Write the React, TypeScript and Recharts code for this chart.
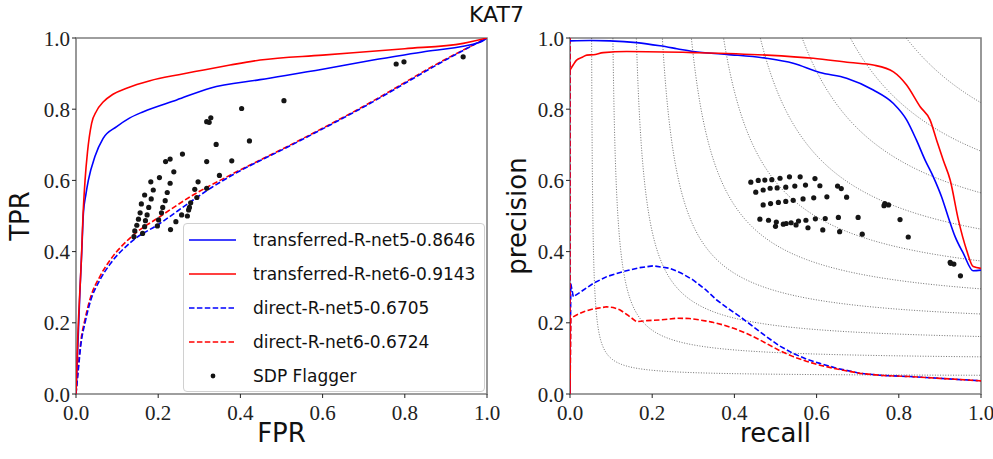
import React from "react";
import {
  ComposedChart,
  Line,
  Scatter,
  XAxis,
  YAxis,
  ReferenceArea,
} from "recharts";

type Pt = { x: number; y: number };
const P = (arr: number[][]): Pt[] => arr.map(([x, y]) => ({ x, y }));

// ---------- ROC panel ----------
const rocTransferredNet5 = P([
  [0, 0], [0.005, 0.15], [0.01, 0.3], [0.014, 0.4], [0.018, 0.508], [0.024, 0.56],
  [0.03, 0.6], [0.046, 0.667], [0.066, 0.718], [0.099, 0.751], [0.13, 0.775],
  [0.164, 0.793], [0.245, 0.826], [0.326, 0.859], [0.448, 0.883], [0.6, 0.912],
  [0.723, 0.938], [0.85, 0.962], [0.983, 0.988], [1, 1],
]);
const rocTransferredNet6 = P([
  [0, 0], [0.004, 0.15], [0.009, 0.28], [0.013, 0.376], [0.017, 0.5], [0.022, 0.6],
  [0.028, 0.68], [0.038, 0.76], [0.05, 0.795], [0.066, 0.82], [0.09, 0.842],
  [0.123, 0.859], [0.18, 0.88], [0.25, 0.897], [0.3, 0.908], [0.375, 0.924],
  [0.448, 0.938], [0.6, 0.952], [0.8, 0.97], [0.942, 0.985], [1, 1],
]);
const rocDirectNet5 = P([
  [0, 0], [0.005, 0.06], [0.012, 0.14], [0.022, 0.2], [0.035, 0.26], [0.058, 0.32],
  [0.083, 0.365], [0.135, 0.428], [0.204, 0.479], [0.285, 0.545], [0.33, 0.58],
  [0.367, 0.606], [0.529, 0.702], [0.69, 0.8], [0.91, 0.945], [0.983, 0.99], [1, 1],
]);
const rocDirectNet6 = P([
  [0, 0], [0.005, 0.07], [0.012, 0.15], [0.022, 0.21], [0.035, 0.27], [0.058, 0.33],
  [0.083, 0.376], [0.135, 0.442], [0.204, 0.498], [0.285, 0.559], [0.367, 0.61],
  [0.529, 0.704], [0.69, 0.802], [0.91, 0.947], [0.983, 0.99], [1, 1],
]);
const rocSdpFlagger = P([
  [0.506, 0.824], [0.403, 0.802], [0.328, 0.776], [0.318, 0.765], [0.324, 0.763],
  [0.422, 0.711], [0.341, 0.701], [0.259, 0.674], [0.229, 0.66], [0.218, 0.653],
  [0.318, 0.653], [0.379, 0.655], [0.238, 0.624], [0.349, 0.614], [0.203, 0.608],
  [0.182, 0.596], [0.297, 0.596], [0.229, 0.592], [0.188, 0.573], [0.222, 0.566],
  [0.289, 0.575], [0.318, 0.578], [0.167, 0.559], [0.217, 0.543], [0.183, 0.548],
  [0.294, 0.552], [0.159, 0.534], [0.279, 0.537], [0.177, 0.524], [0.211, 0.524],
  [0.276, 0.524], [0.274, 0.517], [0.156, 0.509], [0.208, 0.509], [0.173, 0.503],
  [0.257, 0.503], [0.271, 0.5], [0.152, 0.491], [0.201, 0.489], [0.169, 0.487],
  [0.243, 0.484], [0.148, 0.474], [0.198, 0.472], [0.167, 0.47], [0.143, 0.458],
  [0.23, 0.462], [0.162, 0.451], [0.141, 0.442], [0.779, 0.927], [0.798, 0.933],
  [0.942, 0.947],
]);

// ---------- PR panel ----------
const prTransferredNet5 = P([
  [0, 0.992], [0.05, 0.993], [0.097, 0.992], [0.162, 0.987], [0.219, 0.978],
  [0.26, 0.97], [0.3, 0.962], [0.381, 0.954], [0.478, 0.943], [0.543, 0.929],
  [0.608, 0.903], [0.673, 0.887], [0.738, 0.854], [0.787, 0.816], [0.819, 0.77],
  [0.843, 0.713], [0.864, 0.657], [0.884, 0.61], [0.904, 0.554], [0.92, 0.498],
  [0.937, 0.442], [0.957, 0.395], [0.981, 0.346], [1, 0.348],
]);
const prTransferredNet6 = P([
  [0, 0.91], [0.008, 0.925], [0.016, 0.938], [0.03, 0.946], [0.041, 0.952],
  [0.057, 0.953], [0.081, 0.959], [0.138, 0.962], [0.3, 0.959], [0.478, 0.952],
  [0.592, 0.943], [0.681, 0.931], [0.738, 0.924], [0.787, 0.905], [0.819, 0.868],
  [0.852, 0.807], [0.876, 0.77], [0.892, 0.713], [0.908, 0.657], [0.925, 0.601],
  [0.945, 0.489], [0.965, 0.404], [0.981, 0.358], [1, 0.353],
]);
const prDirectNet5 = P([
  [0, 1], [0, 0], [0.002, 0.31], [0.008, 0.273], [0.03, 0.29], [0.057, 0.311],
  [0.09, 0.33], [0.13, 0.344], [0.17, 0.355], [0.203, 0.36], [0.243, 0.353],
  [0.27, 0.34], [0.3, 0.32], [0.33, 0.293], [0.357, 0.264], [0.385, 0.24],
  [0.414, 0.217], [0.445, 0.19], [0.478, 0.161], [0.51, 0.135], [0.543, 0.114],
  [0.575, 0.098], [0.608, 0.086], [0.65, 0.072], [0.706, 0.058], [0.76, 0.052],
  [0.827, 0.049], [0.9, 0.044], [1, 0.037],
]);
const prDirectNet6 = P([
  [0, 1], [0, 0], [0.002, 0.213], [0.016, 0.222], [0.035, 0.232], [0.057, 0.239],
  [0.089, 0.245], [0.105, 0.243], [0.122, 0.236], [0.14, 0.222], [0.162, 0.203],
  [0.187, 0.206], [0.219, 0.208], [0.26, 0.213], [0.29, 0.212], [0.316, 0.208],
  [0.345, 0.202], [0.373, 0.194], [0.4, 0.184], [0.43, 0.17], [0.455, 0.156],
  [0.478, 0.142], [0.51, 0.122], [0.543, 0.105], [0.575, 0.092], [0.608, 0.081],
  [0.65, 0.07], [0.706, 0.058], [0.76, 0.052], [0.827, 0.049], [0.9, 0.044],
  [1, 0.037],
]);
const prSdpFlagger = P([
  [0.44, 0.595], [0.458, 0.6], [0.474, 0.601], [0.491, 0.602], [0.511, 0.606],
  [0.534, 0.61], [0.56, 0.61], [0.596, 0.605], [0.452, 0.567], [0.47, 0.573],
  [0.487, 0.578], [0.504, 0.579], [0.525, 0.581], [0.547, 0.584], [0.573, 0.587],
  [0.608, 0.585], [0.651, 0.584], [0.66, 0.577], [0.47, 0.531], [0.488, 0.535],
  [0.507, 0.538], [0.525, 0.541], [0.543, 0.544], [0.567, 0.548], [0.593, 0.551],
  [0.625, 0.554], [0.673, 0.553], [0.764, 0.529], [0.766, 0.535], [0.775, 0.531],
  [0.462, 0.491], [0.483, 0.488], [0.502, 0.483], [0.5, 0.471], [0.519, 0.477],
  [0.526, 0.479], [0.538, 0.481], [0.55, 0.475], [0.556, 0.486], [0.574, 0.488],
  [0.597, 0.492], [0.621, 0.493], [0.653, 0.496], [0.701, 0.496], [0.803, 0.49],
  [0.579, 0.467], [0.615, 0.461], [0.656, 0.456], [0.711, 0.449], [0.823, 0.441],
  [0.925, 0.37], [0.926, 0.367], [0.934, 0.365], [0.95, 0.332],
]);

// iso-F1 levels drawn as dotted contours
const isoF1Levels = [0.1, 0.189, 0.278, 0.367, 0.456, 0.544, 0.633, 0.722, 0.811, 0.9];

const axisTicks = [0, 0.2, 0.4, 0.6, 0.8, 1.0];
const title = "KAT7";

const legendItems = [
  { label: "transferred-R-net5-0.8646", color: "#0000ff", dash: false, dot: false },
  { label: "transferred-R-net6-0.9143", color: "#ff0000", dash: false, dot: false },
  { label: "direct-R-net5-0.6705", color: "#0000ff", dash: true, dot: false },
  { label: "direct-R-net6-0.6724", color: "#ff0000", dash: true, dot: false },
  { label: "SDP Flagger", color: "#111111", dash: false, dot: true },
];

function isoCurve(f: number): Pt[] {
  const pts: Pt[] = [];
  const rTop = f / (2 - f);
  const d0 = (rTop - f / 2) * 0.85;
  const d1 = 1 - f / 2;
  const n = 160;
  for (let i = 0; i <= n; i++) {
    const d = d0 * Math.pow(d1 / d0, i / n);
    const r = f / 2 + d;
    pts.push({ x: r, y: (f * r) / (2 * r - f) });
  }
  return pts;
}

const TICKFONT = "'Liberation Serif', 'DejaVu Serif', Roboto, sans-serif";
const SANS = "'DejaVu Sans', sans-serif";
const DASH = "5.5 2.4";
const SPINE = "#7f7f7f";

const fmt = (v: number) => v.toFixed(1);

const Dot = (props: any) => {
  const { cx, cy } = props;
  if (cx == null || cy == null) return null;
  return <circle cx={cx} cy={cy} r={2.6} fill="#151515" />;
};

const tickTextStyle: React.CSSProperties = { fontFamily: TICKFONT, fontSize: 21, fontWeight: 300 };

const XTick = (props: any) => {
  const { x, y, payload } = props;
  return (
    <text x={x} y={y + 20} textAnchor="middle" style={tickTextStyle} fill="#222">
      {fmt(payload.value)}
    </text>
  );
};
const YTick = (props: any) => {
  const { x, y, payload } = props;
  return (
    <text x={x} y={y + 7.5} textAnchor="end" style={tickTextStyle} fill="#222">
      {fmt(payload.value)}
    </text>
  );
};

const LegendBox = () => (
  <div
    style={{
      position: "absolute",
      left: 183,
      top: 223,
      width: 302,
      height: 169,
      border: "1px solid #d0d0d0",
      borderRadius: 4,
      background: "rgba(255,255,255,0.85)",
      boxSizing: "border-box",
      fontFamily: SANS,
      fontSize: 17,
      color: "#111",
    }}
  >
    {legendItems.map((it, i) => (
      <div
        key={it.label}
        style={{
          position: "absolute",
          left: 0,
          top: 16 + i * 34 - 12,
          height: 24,
          display: "flex",
          alignItems: "center",
          whiteSpace: "nowrap",
        }}
      >
        <svg width={69} height={24} style={{ display: "block" }}>
          {it.dot ? (
            <circle cx={29} cy={12} r={2.4} fill={it.color} />
          ) : (
            <line
              x1={5}
              x2={52}
              y1={12}
              y2={12}
              stroke={it.color}
              strokeWidth={1.6}
              strokeDasharray={it.dash ? DASH : undefined}
            />
          )}
        </svg>
        <span>{it.label}</span>
      </div>
    ))}
  </div>
);

const axisCommon = {
  type: "number" as const,
  domain: [0, 1] as [number, number],
  ticks: axisTicks,
  allowDataOverflow: true,
  tickSize: 4,
  axisLine: false,
  tickLine: { stroke: "#222" },
};

const labelStyle: React.CSSProperties = {
  position: "absolute",
  fontFamily: SANS,
  fontSize: 26,
  color: "#111",
  whiteSpace: "nowrap",
};

export default function App() {
  const W = 500;
  const H = 459;
  return (
    <div style={{ position: "absolute", left: 0, top: 0, width: 993, height: 459, background: "#fff", overflow: "hidden" }}>
      <div
        style={{
          position: "absolute",
          left: 0,
          width: 993,
          top: 2,
          textAlign: "center",
          fontFamily: SANS,
          fontSize: 22,
          color: "#111",
        }}
      >
        {title}
      </div>

      {/* ROC panel */}
      <div style={{ position: "absolute", left: 0, top: 0, width: W, height: H }}>
        <ComposedChart width={W} height={H} margin={{ top: 38, right: 13, bottom: 35, left: 0 }}>
          <XAxis {...axisCommon} dataKey="x" height={30} tick={<XTick />} />
          <YAxis {...axisCommon} dataKey="y" width={76} tick={<YTick />} />
          <ReferenceArea x1={0} x2={1} y1={0} y2={1} fill="none" stroke={SPINE} strokeWidth={1.6} />
          <Scatter data={rocSdpFlagger} dataKey="y" shape={<Dot />} isAnimationActive={false} />
          <Line data={rocDirectNet6} dataKey="y" type="monotoneX" stroke="#ff0000" strokeWidth={1.6} strokeDasharray={DASH} dot={false} activeDot={false} isAnimationActive={false} />
          <Line data={rocDirectNet5} dataKey="y" type="monotoneX" stroke="#0000ff" strokeWidth={1.6} strokeDasharray={DASH} dot={false} activeDot={false} isAnimationActive={false} />
          <Line data={rocTransferredNet5} dataKey="y" type="monotoneX" stroke="#0000ff" strokeWidth={1.6} dot={false} activeDot={false} isAnimationActive={false} />
          <Line data={rocTransferredNet6} dataKey="y" type="monotoneX" stroke="#ff0000" strokeWidth={1.6} dot={false} activeDot={false} isAnimationActive={false} />
        </ComposedChart>
        <LegendBox />
        <div style={{ ...labelStyle, left: 76, width: 411, top: 418, textAlign: "center" }}>FPR</div>
        <div style={{ ...labelStyle, left: 20, top: 216, transform: "translate(-50%, -50%) rotate(-90deg)" }}>TPR</div>
      </div>

      {/* PR panel */}
      <div style={{ position: "absolute", left: 493, top: 0, width: 504, height: H }}>
        <ComposedChart width={504} height={H} margin={{ top: 38, right: 16, bottom: 35, left: 0 }}>
          <XAxis {...axisCommon} dataKey="x" height={30} tick={<XTick />} />
          <YAxis {...axisCommon} dataKey="y" width={77} tick={<YTick />} />
          {isoF1Levels.map((f) => (
            <Line
              key={"iso" + f}
              data={isoCurve(f)}
              dataKey="y"
              type="linear"
              stroke="#333"
              strokeWidth={0.7}
              strokeDasharray="1 1.6"
              dot={false}
              activeDot={false}
              isAnimationActive={false}
            />
          ))}
          <ReferenceArea x1={0} x2={1} y1={0} y2={1} fill="none" stroke={SPINE} strokeWidth={1.6} />
          <Line data={prDirectNet5} dataKey="y" type="linear" stroke="#0000ff" strokeWidth={1.6} strokeDasharray={DASH} dot={false} activeDot={false} isAnimationActive={false} />
          <Line data={prDirectNet6} dataKey="y" type="linear" stroke="#ff0000" strokeWidth={1.6} strokeDasharray={DASH} dot={false} activeDot={false} isAnimationActive={false} />
          <Line data={prTransferredNet5} dataKey="y" type="monotoneX" stroke="#0000ff" strokeWidth={1.6} dot={false} activeDot={false} isAnimationActive={false} />
          <Line data={prTransferredNet6} dataKey="y" type="monotoneX" stroke="#ff0000" strokeWidth={1.6} dot={false} activeDot={false} isAnimationActive={false} />
          <Scatter data={prSdpFlagger} dataKey="y" shape={<Dot />} isAnimationActive={false} />
        </ComposedChart>
        <div style={{ ...labelStyle, left: 77, width: 411, top: 418, textAlign: "center" }}>recall</div>
        <div style={{ ...labelStyle, left: 24, top: 216, transform: "translate(-50%, -50%) rotate(-90deg)" }}>precision</div>
      </div>
    </div>
  );
}
